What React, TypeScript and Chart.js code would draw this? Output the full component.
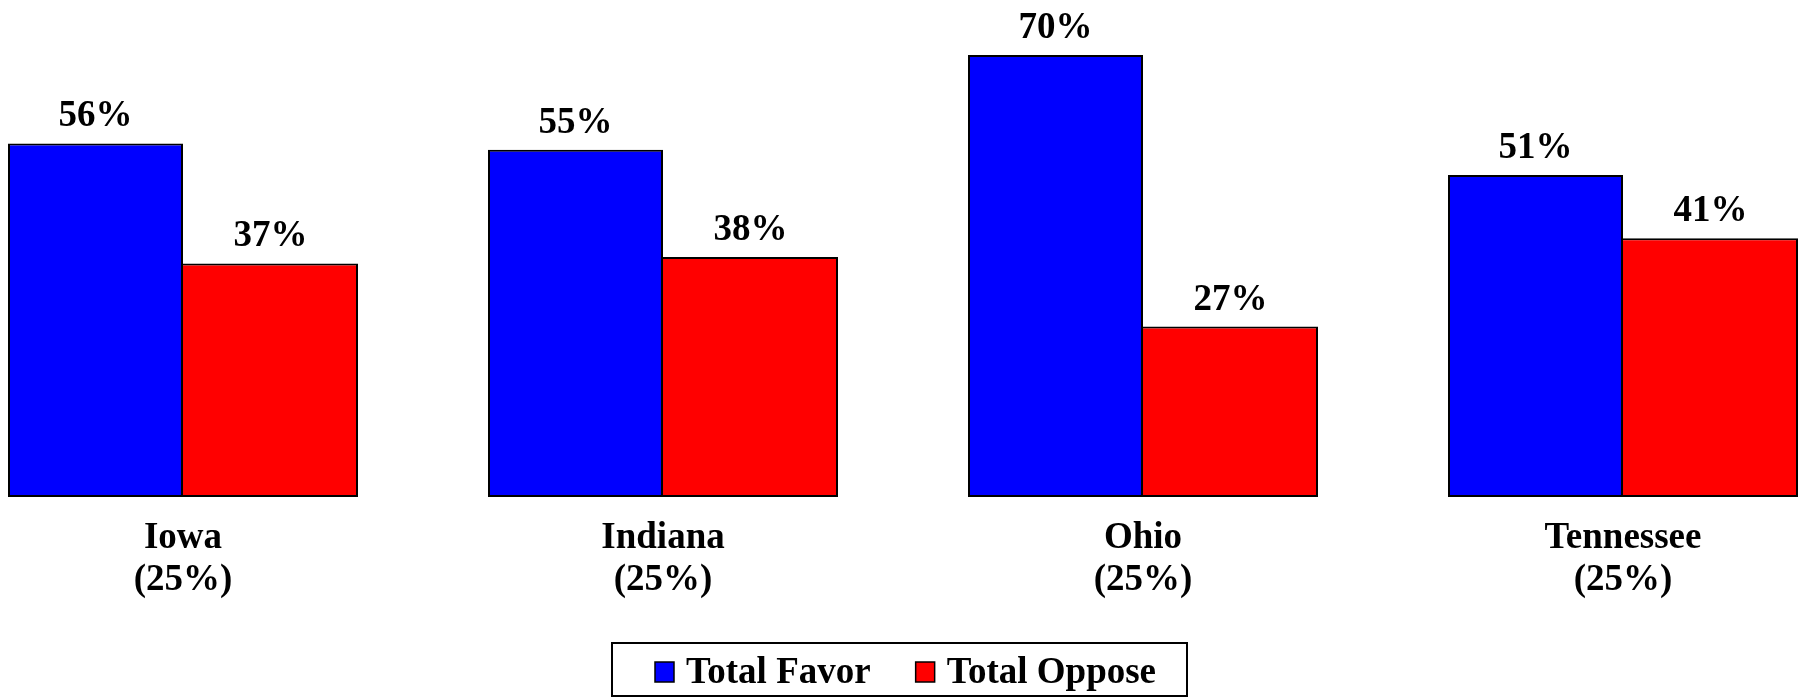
import React, { useEffect, useRef } from "react";
import { Chart, registerables } from "chart.js";

Chart.register(...registerables);

const categories: string[][] = [
  ["Iowa", "(25%)"],
  ["Indiana", "(25%)"],
  ["Ohio", "(25%)"],
  ["Tennessee", "(25%)"],
];
const seriesNames = ["Total Favor", "Total Oppose"];
const favorValues = [56, 55, 70, 51];
const opposeValues = [37, 38, 27, 41];
const seriesColors = ["#0000FF", "#FF0000"];

const FONT = '"Liberation Serif", "Times New Roman", serif';
const FONT_SIZE = 37;
const CANVAS_W = 1920;
const CANVAS_H = 697;
const OFFSET_X = -57;

const valueLabels = {
  id: "valueLabels",
  afterDatasetsDraw(chart: any) {
    const ctx = chart.ctx;
    ctx.save();
    ctx.font = `bold ${FONT_SIZE}px ${FONT}`;
    ctx.fillStyle = "#000";
    ctx.textAlign = "center";
    ctx.textBaseline = "alphabetic";
    chart.data.datasets.forEach((ds: any, di: number) => {
      const meta = chart.getDatasetMeta(di);
      meta.data.forEach((el: any, i: number) => {
        ctx.fillText(`${ds.data[i]}%`, el.x, el.y - 17);
      });
    });
    ctx.restore();
  },
};

const boxLegend = {
  id: "boxLegend",
  afterDraw(chart: any) {
    const ctx = chart.ctx;
    const left = 612 - OFFSET_X;
    const top = 643;
    const width = 575;
    const height = 53;
    ctx.save();
    ctx.lineWidth = 2;
    ctx.strokeStyle = "#000";
    ctx.strokeRect(left, top, width, height);
    ctx.font = `bold ${FONT_SIZE}px ${FONT}`;
    ctx.textBaseline = "alphabetic";
    ctx.textAlign = "left";
    let x = left + 43;
    chart.data.datasets.forEach((ds: any, i: number) => {
      ctx.fillStyle = ds.backgroundColor;
      ctx.fillRect(x, 662, 19, 20);
      ctx.lineWidth = 1.5;
      ctx.strokeStyle = "#000";
      ctx.strokeRect(x, 662, 19, 20);
      ctx.fillStyle = "#000";
      ctx.fillText(ds.label, x + 31, 683);
      x += 31 + ctx.measureText(ds.label).width + 45;
    });
    ctx.restore();
  },
};

export default function App() {
  const ref = useRef<HTMLCanvasElement | null>(null);

  useEffect(() => {
    if (!ref.current) return;
    const chart = new Chart(ref.current, {
      type: "bar",
      data: {
        labels: categories,
        datasets: [
          {
            label: seriesNames[0],
            data: favorValues,
            backgroundColor: seriesColors[0],
            borderColor: "#000",
            borderWidth: { top: 2, left: 2, right: 2, bottom: 2 },
            borderSkipped: false,
            categoryPercentage: 350 / 480,
            barPercentage: 1,
          },
          {
            label: seriesNames[1],
            data: opposeValues,
            backgroundColor: seriesColors[1],
            borderColor: "#000",
            borderWidth: { top: 2, left: 0, right: 2, bottom: 2 },
            borderSkipped: false,
            categoryPercentage: 350 / 480,
            barPercentage: 1,
          },
        ],
      },
      options: {
        responsive: false,
        animation: false,
        devicePixelRatio: 1,
        layout: { padding: { top: 23.5, bottom: 76, left: 0, right: 0 } },
        plugins: {
          legend: { display: false },
          tooltip: { enabled: false },
        },
        scales: {
          x: {
            grid: { display: false, drawTicks: false },
            border: { display: false },
            ticks: {
              color: "#000",
              padding: 20,
              font: { family: FONT, size: FONT_SIZE, weight: "bold", lineHeight: 42 / FONT_SIZE },
              maxRotation: 0,
              autoSkip: false,
            },
          },
          y: {
            display: false,
            min: 0,
            max: 75,
          },
        },
      },
      plugins: [valueLabels, boxLegend],
    });
    return () => chart.destroy();
  }, []);

  return (
    <div
      style={{
        position: "absolute",
        left: 0,
        top: 0,
        width: 1805,
        height: 697,
        overflow: "hidden",
        background: "#fff",
      }}
    >
      <canvas
        ref={ref}
        width={CANVAS_W}
        height={CANVAS_H}
        style={{ position: "absolute", left: OFFSET_X, top: 0, width: CANVAS_W, height: CANVAS_H }}
      />
    </div>
  );
}
